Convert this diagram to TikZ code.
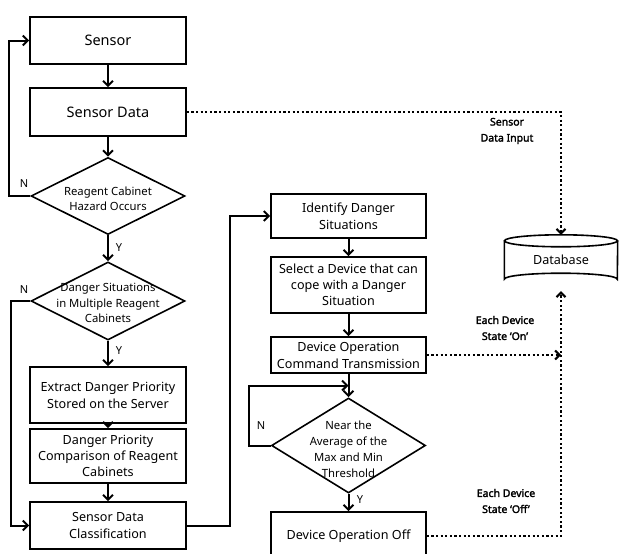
\documentclass[tikz,border=0pt]{standalone}
\usepackage{fontspec}
\setmainfont{Noto Sans}
\newfontfamily\lblfont[FakeBold=2.2]{Noto Sans}
\usetikzlibrary{shapes.geometric,arrows.meta,calc}
\begin{document}
\begin{tikzpicture}[x=1pt,y=-1pt,
  box/.style={draw,line width=1.6pt,minimum width=156pt,align=center,inner sep=2pt,font=\fontsize{12.6}{17}\selectfont},
  bigbox/.style={box,font=\fontsize{14.5}{17}\selectfont},
  diam/.style={draw,diamond,line width=1.6pt,inner sep=0pt,minimum width=154pt},
  dtext/.style={align=center,font=\fontsize{11.3}{15.5}\selectfont,inner sep=0pt},
  arr/.style={line width=2pt,-{Straight Barb[length=5pt,width=10pt,line width=2pt]}},
  dotarr/.style={line width=2.2pt,dash pattern=on 2.2pt off 2.4pt,-{Straight Barb[length=4.5pt,width=9pt,line width=2pt]}},
  yn/.style={font=\fontsize{11}{13}\selectfont,inner sep=0pt},
  lbl/.style={align=center,font=\lblfont\fontsize{10.5}{16}\selectfont,inner sep=0pt}
]
\useasboundingbox (0,0) rectangle (619,554);

% left column
\node[bigbox,minimum height=47pt] (sensor) at (108,40.5) {Sensor};
\node[bigbox,minimum height=48pt] (sdata) at (108,112) {Sensor Data};
\node[diam,minimum height=77pt] (d1) at (108,196) {};
\node[dtext] (d1t) at (108,199) {Reagent Cabinet\\Hazard Occurs};
\node[diam,minimum height=78pt] (d2) at (108,301) {};
\node[dtext] (d2t) at (108,303) {Danger Situations\\in Multiple Reagent\\Cabinets};
\node[box,minimum height=56pt] (extract) at (108,395) {Extract Danger Priority\\Stored on the Server};
\node[box,minimum height=54pt,font=\fontsize{12.6}{16}\selectfont] (compare) at (108,456) {Danger Priority\\Comparison of Reagent\\Cabinets};
\node[box,minimum height=47pt] (classif) at (108,525.5) {Sensor Data\\Classification};

% right column
\node[box,minimum width=155pt,minimum height=44pt] (identify) at (348.5,216) {Identify Danger\\Situations};
\node[box,minimum width=155pt,minimum height=56pt,font=\fontsize{12.6}{16}\selectfont] (select) at (348.5,285) {Select a Device that can\\cope with a Danger\\Situation};
\node[box,minimum width=155pt,minimum height=36pt] (command) at (348.5,355) {Device Operation\\Command Transmission};
\node[diam,minimum width=154pt,minimum height=95pt] (d3) at (348.5,445.5) {};
\node[dtext,font=\fontsize{11.3}{16}\selectfont] (d3t) at (348.5,449) {Near the\\Average of the\\Max and Min\\Threshold};
\node[box,minimum width=155pt,minimum height=48pt] (off) at (348.5,536) {Device Operation Off};

% database
\node[minimum width=113pt,minimum height=50pt,inner sep=0pt,font=\fontsize{12.6}{15}\selectfont] (db) at (561,260) {Database};
\draw[line width=1.6pt] ($(db.north west)+(0,6)$) -- ($(db.south west)+(0,-6)$)
  arc[start angle=180,end angle=360,x radius=56.5pt,y radius=-6pt]
  -- ($(db.north east)+(0,6)$);
\draw[line width=1.6pt] ($(db.north)+(0,6)$) ellipse[x radius=56.5pt,y radius=6pt];

% solid connectors
\draw[arr] (sensor) -- (sdata);
\draw[arr] (sdata) -- (d1);
\draw[arr] (d1.west) -- ++(-21,0) |- (sensor.west);
\node[yn] (n1) at (24,184) {N};
\draw[arr] (d1.south) -- (d2.north);
\node[yn] (y1) at (119,248) {Y};
\draw[arr] (d2.west) -- ++(-19,0) |- (classif.west);
\node[yn] (n2) at (24,290) {N};
\draw[arr] (d2.south) -- (extract.north);
\node[yn] (y2) at (119,351) {Y};
\draw[arr] (extract) -- (compare);
\draw[arr] (compare) -- (classif);
\draw[arr] (classif.east) -- ++(43,0) |- (identify.west);
\draw[arr] (identify) -- (select);
\draw[arr] (select) -- (command);
\draw[arr] (command) -- (d3.north);
\coordinate (mid) at ($(command.south)!0.5!(d3.north)$);
\draw[arr] (d3.west) -- ++(-22,0) |- (mid);
\node[yn] (n3) at (261,426) {N};
\draw[arr] (d3.south) -- (off.north);
\node[yn] (y3) at (360,500) {Y};

% dotted connectors
\draw[dotarr] (sdata.east) -| (db.north);
\node[lbl] (l1) at (507,131) {Sensor\\Data Input};
\coordinate (onend) at (db.south |- command.east);
\draw[dotarr] (command.east) -- (onend);
\node[lbl] (l2) at (505,328) {Each Device\\State ‘On’};
\draw[dotarr] (off.east) -| ($(db.south)+(0,6)$);
\node[lbl] (l3) at (506,501) {Each Device\\State ‘Off’};
\end{tikzpicture}
\end{document}
